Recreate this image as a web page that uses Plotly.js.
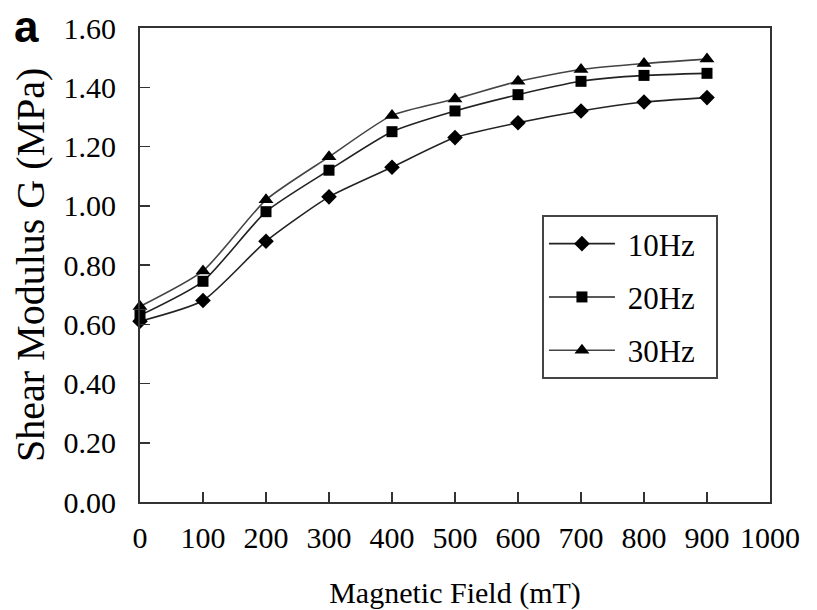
<!DOCTYPE html>
<html>
<head>
<meta charset="utf-8">
<script src="https://cdn.plot.ly/plotly-3.0.1.min.js"></script>
<style>html,body{margin:0;padding:0;background:#fff;}#chart{width:817px;height:610px;}</style>
</head>
<body>
<div id="chart"></div>
<script>
const field = [0, 100, 200, 300, 400, 500, 600, 700, 800, 900];
const g10Hz = [0.61, 0.68, 0.88, 1.03, 1.13, 1.23, 1.28, 1.32, 1.35, 1.365];
const g20Hz = [0.63, 0.745, 0.98, 1.12, 1.25, 1.32, 1.375, 1.42, 1.44, 1.447];
const g30Hz = [0.66, 0.78, 1.02, 1.165, 1.305, 1.36, 1.42, 1.46, 1.48, 1.495];
const seriesNames = ['10Hz', '20Hz', '30Hz'];
const yTicks = [0, 0.2, 0.4, 0.6, 0.8, 1.0, 1.2, 1.4, 1.6];
const xTicks = [0, 100, 200, 300, 400, 500, 600, 700, 800, 900, 1000];

const serif = "'Liberation Serif', 'Times New Roman', Times, serif";
const symbols = ['diamond', 'square', 'triangle-up'];
const sizes = [12, 11, 13];
const lineColors = ['#222', '#222', '#444'];
const ys = [g10Hz, g20Hz, g30Hz];

const traces = ys.map((y, i) => ({
  x: field, y: y, name: ' ' + seriesNames[i] + '\u00a0\u00a0', type: 'scatter', mode: 'lines+markers',
  legendgroup: 'g' + i,
  line: {color: lineColors[i], width: 1.6, shape: 'spline', smoothing: 0.6},
  marker: {symbol: symbols[i], size: sizes[i], color: '#000'},
  cliponaxis: false
}));

const layout = {
  width: 817, height: 610,
  margin: {l: 140, r: 47, t: 28, b: 108},
  paper_bgcolor: '#fff', plot_bgcolor: '#fff',
  font: {family: serif, color: '#000', size: 30},
  showlegend: true,
  legend: {
    x: 0.638, y: 0.6055, xanchor: 'left', yanchor: 'top',
    bordercolor: '#444', borderwidth: 2, bgcolor: '#fff',
    font: {family: serif, size: 31, color: '#000'},
    traceorder: 'grouped', tracegroupgap: 10, itemwidth: 66
  },
  xaxis: {
    range: [0, 1000], tickvals: xTicks, ticktext: xTicks.map(String),
    showgrid: false, zeroline: false,
    showline: true, linecolor: '#333', linewidth: 2, mirror: true,
    ticks: 'inside', ticklen: 10, tickwidth: 1.5, tickcolor: '#333',
    tickfont: {family: serif, size: 30, color: '#000'},
    ticklabelstandoff: 8,
    title: {text: 'Magnetic Field (mT)', font: {family: serif, size: 30, color: '#000'}, standoff: 29}
  },
  yaxis: {
    range: [0, 1.6], tickvals: yTicks, tickformat: '.2f',
    showgrid: false, zeroline: false,
    showline: true, linecolor: '#333', linewidth: 2, mirror: true,
    ticks: 'inside', ticklen: 10, tickwidth: 1.5, tickcolor: '#333',
    tickfont: {family: serif, size: 30, color: '#000'},
    ticklabelstandoff: 16
  },
  annotations: [{
    text: 'Shear Modulus G (MPa)', xref: 'paper', yref: 'paper', x: -0.1746, y: 0.5,
    xanchor: 'center', yanchor: 'middle', textangle: -90, showarrow: false,
    font: {family: serif, size: 40, color: '#000'}
  }, {
    text: '<b>a</b>', xref: 'paper', yref: 'paper', x: -0.18, y: 1.004,
    xanchor: 'center', yanchor: 'middle', showarrow: false,
    font: {family: "'Liberation Sans', Arial, sans-serif", size: 44, color: '#000'}
  }]
};

Plotly.newPlot('chart', traces, layout, {displayModeBar: false, staticPlot: true});
</script>
</body>
</html>
